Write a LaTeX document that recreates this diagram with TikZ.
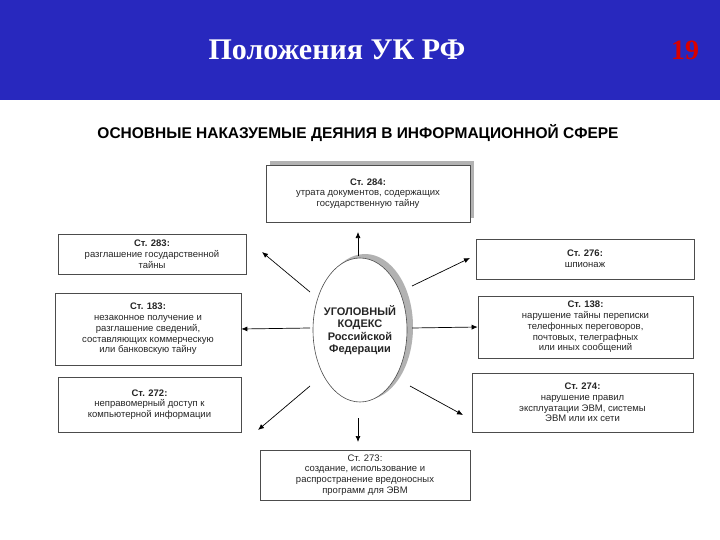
\documentclass[tikz,border=0pt]{standalone}
\usepackage{fontspec}
\usetikzlibrary{arrows.meta}
\setmainfont{Liberation Serif}
\newfontfamily\ar{Liberation Sans}
\definecolor{hdr}{RGB}{40,40,190}
\begin{document}
\begin{tikzpicture}[x=1pt,y=-1pt,
 box/.style={draw=black!70,fill=white,line width=0.6pt,align=center,font=\ar\fontsize{9.5}{10.8}\selectfont,inner sep=1pt,text=black!85},
 arr/.style={-{Latex[length=6pt,width=5pt]},line width=0.7pt}]
\useasboundingbox (0,0) rectangle (720,540);
\fill[white] (0,0) rectangle (720,540);
\fill[hdr] (0,0) rectangle (720,100);
\node[text=white,font=\fontsize{30}{32}\selectfont\bfseries] (t) at (337,50) {Положения УК РФ};
\node[text=red!85!black,font=\fontsize{28}{30}\selectfont\bfseries] (n) at (685,50) {19};
\node[font=\ar\bfseries\fontsize{15.5}{17}\selectfont] (h) at (358,133) {ОСНОВНЫЕ НАКАЗУЕМЫЕ ДЕЯНИЯ В ИНФОРМАЦИОННОЙ СФЕРЕ};
% shadows
\fill[black!30] (270,161) rectangle (474,218);
\fill[black!30] (365,327) ellipse (48 and 73);
\node[box,minimum width=204,minimum height=57] (b284) at (368,193.5) {\textbf{Ст. 284:}\\утрата документов, содержащих\\государственную тайну};
\node[box,minimum width=188,minimum height=40] (b283) at (152,254) {\textbf{Ст. 283:}\\разглашение государственной\\тайны};
\node[box,minimum width=218,minimum height=40] (b276) at (585,259) {\textbf{Ст. 276:}\\шпионаж};
\node[box,minimum width=186,minimum height=72] (b183) at (148,329) {\textbf{Ст. 183:}\\незаконное получение и\\разглашение сведений,\\составляющих коммерческую\\или банковскую тайну};
\node[box,minimum width=215,minimum height=62] (b138) at (585.5,327) {\textbf{Ст. 138:}\\нарушение тайны переписки\\телефонных переговоров,\\почтовых, телеграфных\\или иных сообщений};
\node[box,minimum width=183,minimum height=55] (b272) at (149.5,404.5) {\textbf{Ст. 272:}\\неправомерный доступ к\\компьютерной информации};
\node[box,minimum width=221,minimum height=59] (b274) at (582.5,402.5) {\textbf{Ст. 274:}\\нарушение правил\\эксплуатации ЭВМ, системы\\ЭВМ или их сети};
\node[box,minimum width=210,minimum height=50] (b273) at (365,475) {Ст. 273:\\создание, использование и\\распространение вредоносных\\программ для ЭВМ};
\draw[fill=white,draw=black!70,line width=0.6pt] (360,330) ellipse (47 and 72);
\node[align=center,font=\ar\bfseries\fontsize{11}{12.5}\selectfont,text=black!85] (uk) at (360,330) {УГОЛОВНЫЙ\\КОДЕКС\\Российской\\Федерации};
\coordinate (a1) at (358,256); \coordinate (a2) at (310,292); \coordinate (a3) at (412,286);
\coordinate (a4) at (310,328); \coordinate (a5) at (412,328); \coordinate (a6) at (310,386);
\coordinate (a7) at (410,386); \coordinate (a8) at (358,418);
\draw[arr] (a1) -- (358,232);
\draw[arr] (a2) -- (262,252);
\draw[arr] (a3) -- (470,258);
\draw[arr] (a4) -- (b183.east);
\draw[arr] (a5) -- (b138.west);
\draw[arr] (a6) -- (258,430);
\draw[arr] (a7) -- (463,415);
\draw[arr] (a8) -- (358,442);
\end{tikzpicture}
\end{document}
